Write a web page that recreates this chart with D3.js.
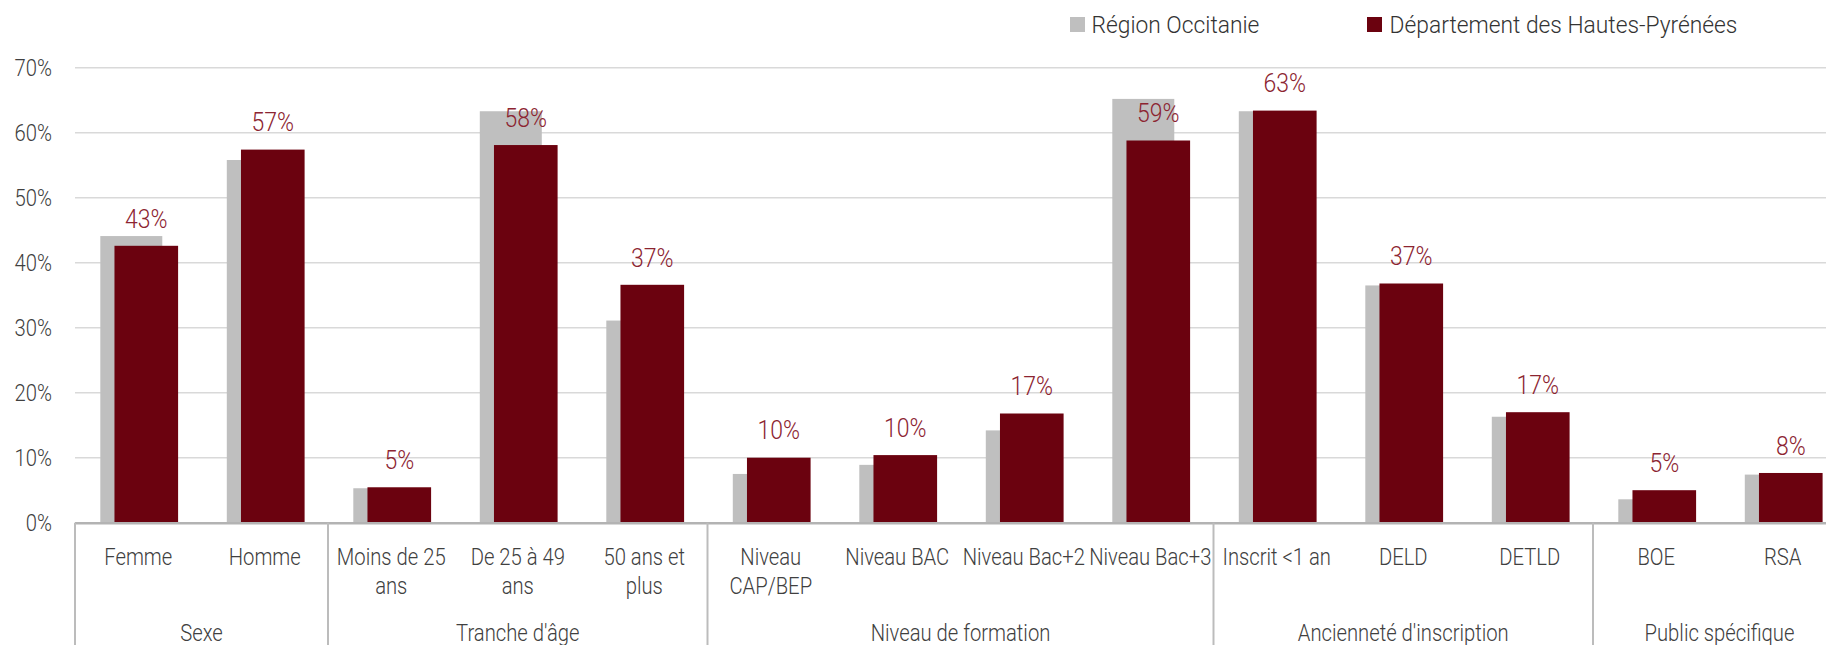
<!DOCTYPE html>
<html><head><meta charset="utf-8">
<script src="https://cdn.jsdelivr.net/npm/d3@7"></script>
<style>body{margin:0;background:#fff;overflow:hidden} svg{display:block} text{font-family:Roboto, "Liberation Sans", sans-serif;font-weight:300}</style>
</head><body><svg id="c" width="1826" height="645"></svg>
<script>
// ---- data ----
const groups = ["Sexe", "Tranche d'âge", "Niveau de formation", "Ancienneté d'inscription", "Public spécifique"];
const groupSizes = [2, 3, 4, 3, 2];
const categories = ["Femme", "Homme", "Moins de 25 ans", "De 25 à 49 ans", "50 ans et plus",
  "Niveau CAP/BEP", "Niveau BAC", "Niveau Bac+2", "Niveau Bac+3",
  "Inscrit <1 an", "DELD", "DETLD", "BOE", "RSA"];
const categoryLines = [["Femme"], ["Homme"], ["Moins de 25", "ans"], ["De 25 à 49", "ans"], ["50 ans et", "plus"],
  ["Niveau", "CAP/BEP"], ["Niveau BAC"], ["Niveau Bac+2"], ["Niveau Bac+3"],
  ["Inscrit <1 an"], ["DELD"], ["DETLD"], ["BOE"], ["RSA"]];
const regionValues = [44.1, 55.8, 5.3, 63.3, 31.1, 7.5, 8.9, 14.2, 65.2, 63.3, 36.5, 16.3, 3.6, 7.4];
const deptValues = [42.6, 57.4, 5.45, 58.1, 36.6, 10.0, 10.4, 16.8, 58.8, 63.4, 36.8, 17.0, 5.0, 7.65];
const yTicks = [0, 10, 20, 30, 40, 50, 60, 70];
const seriesNames = ["Région Occitanie", "Département des Hautes-Pyrénées"];

// ---- style ----
const COL_REGION = "#bfbfbf", COL_DEPT = "#6b020f", COL_LABEL = "#8c2431", COL_TEXT = "#404040";
const left = 75, bw = 126.5, y0 = 522.7, yTop = 67.7;

const svg = d3.select("#c");
const x = d3.scaleBand().domain(d3.range(categories.length)).range([left, left + bw * categories.length]).padding(0);
const y = d3.scaleLinear().domain([0, 70]).range([y0, yTop]);

function txt(g, s, tx, ty, size, sx, anchor, fill) {
  return g.append("text").attr("transform", `translate(${tx},${ty}) scale(${sx},1)`)
    .attr("text-anchor", anchor).attr("font-size", size).attr("fill", fill).text(s);
}

// gridlines
const grid = svg.append("g");
grid.selectAll("line").data(yTicks.filter(d => d > 0)).join("line")
  .attr("x1", left).attr("x2", 1826).attr("y1", d => y(d)).attr("y2", d => y(d))
  .attr("stroke", "#d9d9d9").attr("stroke-width", 1.5);

// y axis labels
const yl = svg.append("g");
yTicks.forEach(t => txt(yl, t + "%", 52, y(t) + 8.3, 23, 0.88, "end", COL_TEXT));

// bars
const bars = svg.append("g");
bars.selectAll("rect.r").data(regionValues).join("rect").attr("class", "r")
  .attr("x", (d, i) => x(i) + bw * 0.2).attr("width", bw * 0.49)
  .attr("y", d => y(d)).attr("height", d => y0 - y(d)).attr("fill", COL_REGION);
bars.selectAll("rect.d").data(deptValues).join("rect").attr("class", "d")
  .attr("x", (d, i) => x(i) + bw * 0.312).attr("width", bw * 0.503)
  .attr("y", d => y(d)).attr("height", d => y0 - y(d)).attr("fill", COL_DEPT);

// data labels
const dl = svg.append("g");
deptValues.forEach((v, i) => txt(dl, Math.round(v) + "%", x(i) + bw * 0.5635, y(v) - 18.3, 25, 0.92, "middle", COL_LABEL));

// axis line
svg.append("line").attr("x1", left).attr("x2", 1826).attr("y1", y0 + 0.6).attr("y2", y0 + 0.6)
  .attr("stroke", "#b3b3b3").attr("stroke-width", 2.5);

// group separators
let acc = 0; const bounds = [0];
groupSizes.forEach(s => { acc += s; bounds.push(acc); });
svg.append("g").selectAll("line").data(bounds).join("line")
  .attr("x1", d => left + d * bw).attr("x2", d => left + d * bw)
  .attr("y1", y0).attr("y2", 645).attr("stroke", "#bcbcbc").attr("stroke-width", 2);

// category labels
const cl = svg.append("g");
categoryLines.forEach((lines, i) => lines.forEach((l, k) =>
  txt(cl, l, x(i) + bw / 2, 565 + k * 29, 23, 0.88, "middle", COL_TEXT)));

// group labels
const gl = svg.append("g");
groups.forEach((g, j) => txt(gl, g, left + (bounds[j] + bounds[j + 1]) / 2 * bw, 641, 23, 0.88, "middle", COL_TEXT));

// legend
const lg = svg.append("g");
[[1070, COL_REGION, 1091.5], [1367, COL_DEPT, 1389.6]].forEach((p, i) => {
  lg.append("rect").attr("x", p[0]).attr("y", 17).attr("width", 15).attr("height", 15).attr("fill", p[1]);
  txt(lg, seriesNames[i], p[2], 33, 24, 0.95, "start", "#333");
});
</script></body></html>
